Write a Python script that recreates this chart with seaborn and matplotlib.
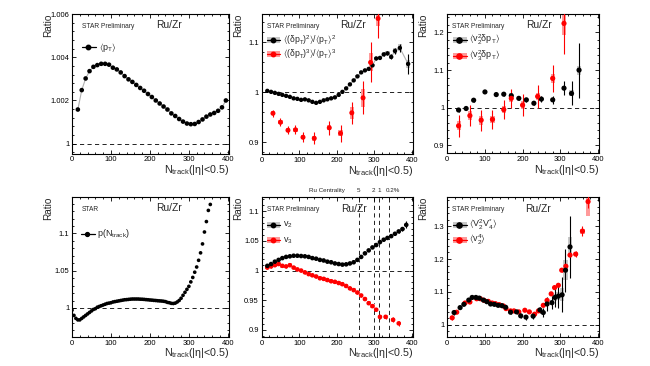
import numpy as np
import matplotlib
matplotlib.use("Agg")
import matplotlib.pyplot as plt
from matplotlib.ticker import MultipleLocator, FuncFormatter
from matplotlib.patches import Rectangle
import seaborn as sns

# ---- data ----
# panel 1: <pT>
mpt_n = [15, 25, 35, 45, 55, 65, 75, 85, 95, 105, 115, 125, 135, 145, 155, 165, 175, 185, 195, 205,
         215, 225, 235, 245, 255, 265, 275, 285, 295, 305, 315, 325, 335, 345, 355, 365, 375, 385, 395]
mpt_r = [1.00158, 1.00248, 1.00302, 1.00336, 1.00356, 1.00364, 1.00370, 1.00370, 1.00366, 1.00352,
         1.00344, 1.00330, 1.00313, 1.00298, 1.00286, 1.00272, 1.00258, 1.00245, 1.00230, 1.00216,
         1.00200, 1.00186, 1.00172, 1.00158, 1.00140, 1.00128, 1.00114, 1.00102, 1.00093, 1.00090,
         1.00091, 1.00100, 1.00112, 1.00125, 1.00135, 1.00142, 1.00152, 1.00168, 1.00200]

# panel 2: <(dpT)^2>/<pT>^2 and <(dpT)^3>/<pT>^3
c2_n = [15, 25, 35, 45, 55, 65, 75, 85, 95, 105, 115, 125, 135, 145, 155, 165, 175, 185, 195, 205,
        215, 225, 235, 245, 255, 265, 275, 285, 295, 305, 315, 325, 335, 345, 355, 368, 390]
c2_r = [1.003, 1.001, 0.999, 0.997, 0.995, 0.993, 0.991, 0.988, 0.987, 0.985, 0.986, 0.984, 0.981,
        0.979, 0.981, 0.984, 0.986, 0.988, 0.990, 0.995, 1.001, 1.008, 1.016, 1.024, 1.032, 1.040,
        1.044, 1.047, 1.054, 1.068, 1.069, 1.076, 1.078, 1.071, 1.083, 1.089, 1.057]
c2_e = [0.002] * 29 + [0.003, 0.003, 0.004, 0.004, 0.005, 0.006, 0.008, 0.02]
c2_s = [0.002] * 29 + [0.003, 0.003, 0.004, 0.004, 0.005, 0.006, 0.007, 0.008]

c3_n = [30, 50, 70, 90, 110, 140, 180, 210, 240, 270, 290, 310]
c3_r = [0.958, 0.940, 0.924, 0.925, 0.910, 0.908, 0.929, 0.918, 0.959, 0.989, 1.060, 1.148]
c3_e = [0.007, 0.008, 0.008, 0.009, 0.010, 0.012, 0.014, 0.017, 0.022, 0.033, 0.040, 0.040]
c3_s = [0.004, 0.004, 0.004, 0.004, 0.004, 0.005, 0.005, 0.006, 0.012, 0.018, 0.018, 0.016]

# panel 3: <v2^2 dpT>, <v3^2 dpT>
v2p_n = [30, 50, 70, 100, 130, 150, 170, 190, 210, 230, 250, 280, 310, 330, 350]
v2p_r = [0.994, 0.998, 1.020, 1.042, 1.035, 1.036, 1.032, 1.025, 1.021, 1.012, 1.023, 1.021, 1.052, 1.038, 1.100]
v2p_e = [0.004, 0.004, 0.004, 0.004, 0.004, 0.004, 0.005, 0.005, 0.005, 0.006, 0.007, 0.010, 0.018, 0.032, 0.073]
v2p_s = [0.003, 0.003, 0.003, 0.003, 0.003, 0.003, 0.008, 0.003, 0.003, 0.003, 0.004, 0.005, 0.006, 0.008, 0.012]

v3p_n = [30, 60, 90, 120, 150, 170, 200, 240, 280, 310]
v3p_r = [0.952, 0.979, 0.967, 0.969, 0.995, 1.025, 1.007, 1.030, 1.078, 1.224]
v3p_e = [0.030, 0.027, 0.028, 0.025, 0.025, 0.026, 0.030, 0.030, 0.035, 0.080]
v3p_s = [0.012, 0.012, 0.012, 0.010, 0.010, 0.010, 0.010, 0.010, 0.012, 0.030]

# panel 4: p(Ntrack)
pn_n = [0, 5, 10, 15, 20, 25, 30, 35, 40, 45, 50, 55, 60, 65, 70, 75, 80, 85, 90, 95,
        100, 105, 110, 115, 120, 125, 130, 135, 140, 145, 150, 155, 160, 165, 170, 175, 180, 185, 190, 195,
        200, 205, 210, 215, 220, 225, 230, 235, 240, 245, 250, 255, 260, 265, 270, 275, 280, 285, 290, 295,
        300, 305, 310, 315, 320, 325, 330, 335, 340, 345, 350, 355]
pn_r = [0.997, 0.990, 0.986, 0.984, 0.984, 0.986, 0.988, 0.990, 0.992, 0.994, 0.996, 0.998, 0.999, 1.001,
        1.002, 1.003, 1.004, 1.005, 1.006, 1.0065, 1.007, 1.008, 1.0085, 1.009, 1.0095, 1.010, 1.0105,
        1.011, 1.0112, 1.0115, 1.0118, 1.012, 1.012, 1.012, 1.012, 1.0118, 1.0117, 1.0115, 1.0112, 1.011,
        1.0107, 1.0105, 1.0102, 1.010, 1.0097, 1.0095, 1.0093, 1.009, 1.0085, 1.0075, 1.007, 1.0062, 1.006,
        1.0065, 1.008, 1.010, 1.013, 1.017, 1.021, 1.025, 1.029, 1.035, 1.041, 1.048, 1.055, 1.064, 1.074,
        1.086, 1.102, 1.116, 1.131, 1.139]

# panel 5: v2, v3
v2_n = [15, 25, 35, 45, 55, 65, 75, 85, 95, 105, 115, 125, 135, 145, 155, 165, 175, 185, 195, 205,
        215, 225, 235, 245, 255, 265, 275, 285, 295, 305, 315, 325, 335, 345, 355, 365, 375, 385]
v2_r = [1.008, 1.011, 1.015, 1.018, 1.021, 1.023, 1.024, 1.025, 1.025, 1.0245, 1.024, 1.023, 1.021,
        1.020, 1.018, 1.017, 1.015, 1.014, 1.012, 1.011, 1.010, 1.0105, 1.012, 1.014, 1.018, 1.023,
        1.029, 1.034, 1.039, 1.043, 1.048, 1.052, 1.055, 1.058, 1.062, 1.066, 1.070, 1.077]
v2_e = [0.001] * 33 + [0.002, 0.002, 0.003, 0.004, 0.006]

v3_n = [15, 25, 35, 45, 55, 65, 75, 85, 95, 105, 115, 125, 135, 145, 155, 165, 175, 185, 195, 205,
        215, 225, 235, 245, 255, 265, 275, 285, 295, 305, 315, 330, 350, 365]
v3_r = [1.005, 1.007, 1.009, 1.011, 1.008, 1.007, 1.009, 1.005, 1.002, 1.000, 0.997, 0.994, 0.992,
        0.990, 0.987, 0.986, 0.984, 0.982, 0.981, 0.979, 0.977, 0.974, 0.970, 0.967, 0.963, 0.958,
        0.952, 0.945, 0.940, 0.934, 0.922, 0.922, 0.917, 0.911]
v3_e = [0.002] * 30 + [0.003, 0.003, 0.004, 0.004]

# panel 6: <V2^2 V4*>, <v2^4>
v24_n = [18, 34, 44, 57, 66, 76, 85, 96, 105, 115, 125, 135, 145, 155, 168, 184, 195, 209, 228, 246,
         255, 265, 278, 286, 295, 305, 314, 326]
v24_r = [1.037, 1.052, 1.062, 1.075, 1.083, 1.083, 1.081, 1.075, 1.070, 1.063, 1.062, 1.059, 1.058,
         1.053, 1.038, 1.039, 1.027, 1.023, 1.026, 1.045, 1.037, 1.063, 1.067, 1.083, 1.087, 1.091,
         1.166, 1.237]
v24_e = [0.008, 0.004, 0.003, 0.003, 0.003, 0.003, 0.003, 0.003, 0.003, 0.003, 0.003, 0.003, 0.003,
         0.004, 0.005, 0.005, 0.007, 0.008, 0.010, 0.010, 0.015, 0.020, 0.020, 0.030, 0.035, 0.053,
         0.066, 0.094]
v24_s = [0.003] * 20 + [0.005, 0.006, 0.008, 0.010, 0.012, 0.020, 0.030, 0.030]

v4_n = [13, 25, 47, 60, 78, 88, 98, 109, 119, 128, 138, 149, 156, 168, 177, 190, 206, 218, 232, 242,
        255, 265, 276, 285, 295, 304, 315, 326, 341, 359, 374]
v4_r = [1.021, 1.038, 1.066, 1.069, 1.079, 1.079, 1.074, 1.071, 1.066, 1.064, 1.061, 1.057, 1.049,
        1.042, 1.042, 1.039, 1.044, 1.039, 1.032, 1.042, 1.059, 1.074, 1.094, 1.113, 1.120, 1.166,
        1.178, 1.212, 1.215, 1.285, 1.375]
v4_e = [0.006] + [0.003] * 22 + [0.004, 0.005, 0.006, 0.007, 0.008, 0.008, 0.015, 0.02]
v4_s = [0.004] + [0.003] * 26 + [0.006, 0.006, 0.008, 0.045]

# Ru centrality markers (panel 5)
cent_n = [259, 298, 313, 338]
cent_lbl = ['5', '2', '1', '0.2%']

RED = '#ff0000'
PINK = '#ff9a9a'
GREY = '#c8c8c8'
XLAB = r'$N_{track}$(|η|<0.5)'

sns.set_theme(style='ticks')
plt.rcParams['font.family'] = ['Liberation Sans', 'DejaVu Sans']
plt.rcParams['mathtext.fontset'] = 'dejavusans'
plt.rcParams['mathtext.default'] = 'regular'

fig = plt.figure(figsize=(6.5, 3.66), dpi=100)
W, H = 650.0, 366.0


def make_ax(left, top, right, bottom):
    return fig.add_axes([left / W, 1 - bottom / H, (right - left) / W, (bottom - top) / H])


def frame(ax, ylim, ymaj, ymin, wpx, hpx):
    ax.set_xlim(0, 403)
    ax.set_ylim(*ylim)
    ax.xaxis.set_major_locator(MultipleLocator(100))
    ax.xaxis.set_minor_locator(MultipleLocator(20))
    ax.yaxis.set_major_locator(MultipleLocator(ymaj))
    ax.yaxis.set_minor_locator(MultipleLocator(ymin))
    ax.yaxis.set_major_formatter(FuncFormatter(lambda v, p: f'{v:.4g}'))
    ax.tick_params(which='both', direction='in', top=True, right=True, labelsize=5.5,
                   pad=2, width=0.6, colors='black')
    ax.tick_params(which='major', length=3.2)
    ax.tick_params(which='minor', length=1.6)
    for sp in ax.spines.values():
        sp.set_linewidth(0.8)
        sp.set_color('black')
    ax.axhline(1, color='black', lw=0.6, ls=(0, (5, 4)), zorder=1)
    ax.set_xlabel('')
    ax.set_ylabel('')
    ax.text(1, -16.5 / hpx, XLAB, transform=ax.transAxes, ha='right', va='center', fontsize=7.7)
    ax.text(-24 / wpx, 1, 'Ratio', transform=ax.transAxes, rotation=90, ha='center', va='top',
            fontsize=7.2)


def points(ax, n, r, color, s, err=None, sys=None, sys_color=None, line=None):
    if sys is not None:
        lo = np.array(r) - np.array(sys)
        ax.bar(n, 2 * np.array(sys), bottom=lo, width=11, color=sys_color, linewidth=0, zorder=2)
    if line is not None:
        sns.lineplot(x=n, y=r, ax=ax, color=line, lw=0.8, zorder=2, legend=False)
    if err is not None:
        ax.errorbar(n, r, yerr=err, fmt='none', ecolor=color, elinewidth=0.8, capsize=0, zorder=3)
    sns.scatterplot(x=n, y=r, ax=ax, color=color, s=s, edgecolor='none', zorder=4, legend=False)


def legend_entry(ax, x, y, label, color, band=None, ms=3.2, fs=6.5):
    if band is not None:
        ax.add_patch(Rectangle((x - 0.04, y - 0.022), 0.09, 0.044, transform=ax.transAxes,
                               color=band, lw=0, zorder=5))
    ax.plot([x - 0.04, x + 0.05], [y, y], transform=ax.transAxes, color=color, lw=0.9, zorder=6)
    ax.plot([x], [y], transform=ax.transAxes, marker='o', ms=ms, color=color, zorder=7)
    ax.text(x + 0.065, y, label, transform=ax.transAxes, ha='left', va='center', fontsize=fs, zorder=7)


def tags(ax, star, rx, ry, sx=0.035, sy=0.913):
    ax.text(sx, sy, star, transform=ax.transAxes, fontsize=4.8, ha='left', va='center')
    ax.text(rx, ry, 'Ru/Zr', transform=ax.transAxes, fontsize=7.4, ha='center', va='center')


# ---- top row ----
ax1 = make_ax(72, 14, 229, 153.5)
frame(ax1, (0.99954, 1.00601), 0.002, 0.0004, 157, 139.5)
points(ax1, mpt_n, mpt_r, 'black', 11, line='#b0b0b0')
tags(ax1, 'STAR Preliminary', 0.62, 0.92, sx=0.064)
legend_entry(ax1, 0.105, 0.763, r'$\langle p_{T}\rangle$', 'black')

ax2 = make_ax(261.7, 14, 413, 154)
frame(ax2, (0.8765, 1.157), 0.1, 0.02, 151.3, 140)
points(ax2, c2_n, c2_r, 'black', 10, err=c2_e, sys=c2_s, sys_color=GREY, line='#b0b0b0')
points(ax2, c3_n, c3_r, RED, 13, err=c3_e, sys=c3_s, sys_color=PINK)
tags(ax2, 'STAR Preliminary', 0.605, 0.92)
legend_entry(ax2, 0.073, 0.814, r'$\langle(\delta p_{T})^{2}\rangle/\langle p_{T}\rangle^{2}$', 'black',
             band=GREY, fs=6.2)
legend_entry(ax2, 0.073, 0.714, r'$\langle(\delta p_{T})^{3}\rangle/\langle p_{T}\rangle^{3}$', RED,
             band=PINK, fs=6.2)

ax3 = make_ax(447.3, 14, 599, 153.3)
frame(ax3, (0.879, 1.249), 0.1, 0.02, 151.7, 139.3)
points(ax3, v2p_n, v2p_r, 'black', 14, err=v2p_e, sys=v2p_s, sys_color=GREY)
points(ax3, v3p_n, v3p_r, RED, 14, err=v3p_e, sys=v3p_s, sys_color=PINK)
tags(ax3, 'STAR Preliminary', 0.605, 0.92, sx=0.029)
legend_entry(ax3, 0.077, 0.813, r'$\langle v_{2}^{2}\delta p_{T}\rangle$', 'black', band=GREY, ms=3.8)
legend_entry(ax3, 0.077, 0.698, r'$\langle v_{3}^{2}\delta p_{T}\rangle$', RED, band=PINK, ms=3.8)

# ---- bottom row ----
ax4 = make_ax(72, 197, 229, 337)
frame(ax4, (0.961, 1.149), 0.05, 0.01, 157, 140)
points(ax4, pn_n, pn_r, 'black', 7)
tags(ax4, 'STAR', 0.62, 0.92, sx=0.062)
legend_entry(ax4, 0.096, 0.738, r'$p(N_{track})$', 'black', ms=2.8)

ax5 = make_ax(261.7, 197, 413, 337)
frame(ax5, (0.888, 1.124), 0.05, 0.01, 151.3, 140)
for cn in cent_n:
    ax5.axvline(cn, color='black', lw=0.6, ls=(0, (5, 4)), zorder=1)
points(ax5, v3_n, v3_r, RED, 11, err=v3_e, sys=[0.003] * len(v3_n), sys_color=PINK)
points(ax5, v2_n, v2_r, 'black', 11, err=v2_e, sys=[0.0015] * len(v2_n), sys_color=GREY)
tags(ax5, 'STAR Preliminary', 0.61, 0.914, sy=0.909)
legend_entry(ax5, 0.073, 0.802, r'$v_{2}$', 'black', band=GREY)
legend_entry(ax5, 0.073, 0.691, r'$v_{3}$', RED, band=PINK)
xt = ax5.get_xaxis_transform()
ax5.text(0.43, 1.043, 'Ru Centrality', transform=ax5.transAxes, fontsize=4.5, ha='center', va='center')
for cn, cl in zip(cent_n, cent_lbl):
    off = 12 if cl == '0.2%' else 0
    ax5.text(cn + off, 1.043, cl, transform=xt, fontsize=4.5, ha='center', va='center')

ax6 = make_ax(447.3, 197, 599, 337)
frame(ax6, (0.9625, 1.389), 0.1, 0.02, 151.7, 140)
points(ax6, v4_n, v4_r, RED, 14, err=v4_e, sys=v4_s, sys_color=PINK)
points(ax6, v24_n, v24_r, 'black', 14, err=v24_e, sys=v24_s, sys_color=GREY)
tags(ax6, 'STAR Preliminary', 0.60, 0.914, sx=0.029, sy=0.909)
legend_entry(ax6, 0.077, 0.802, r'$\langle V_{2}^{2}V_{4}^{*}\rangle$', 'black', band=GREY, ms=3.8)
legend_entry(ax6, 0.077, 0.695, r'$\langle v_{2}^{4}\rangle$', RED, band=PINK, ms=3.8)

fig.savefig('out.png', dpi=100, facecolor='white')
